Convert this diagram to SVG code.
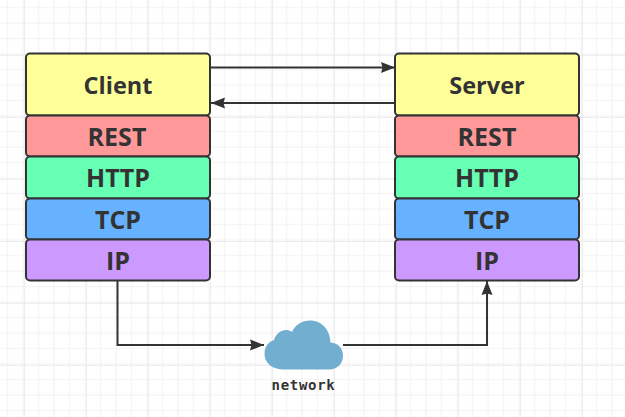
<svg xmlns="http://www.w3.org/2000/svg" width="625" height="417" viewBox="0 0 625 417">
<defs>
<pattern id="gridMinor" width="15.5" height="15.5" patternUnits="userSpaceOnUse" x="-0.5" y="-0.5"><path d="M8 0V15.5M0 8H15.5" fill="none" stroke="#f1f1f1" stroke-width="1"/></pattern>
<pattern id="gridMajor" width="62" height="62" patternUnits="userSpaceOnUse" x="24" y="-7"><path d="M0 0V62M0 0H62" fill="none" stroke="#e8e8e8" stroke-width="1.5"/></pattern>
<marker id="arrow" markerWidth="15" markerHeight="12" refX="14" refY="6" orient="auto" markerUnits="userSpaceOnUse"><path d="M0 0.500L14 6L0 11.500L1.500 6Z" fill="#333"/></marker>
</defs>
<style>
.box{stroke:#333;stroke-width:2}
.t{font-family:"Open Sans","Noto Sans",sans-serif;font-weight:700;font-size:25px;fill:#333;text-anchor:middle}
.h{font-size:23.500px}
.c{fill:none;stroke:#333;stroke-width:2;marker-end:url(#arrow)}
.n{font-family:"DejaVu Sans Mono",monospace;font-weight:700;font-size:14px;letter-spacing:0.700px;fill:#333;text-anchor:middle}
</style>
<rect width="625" height="417" fill="#fff"/>
<rect width="625" height="417" fill="url(#gridMinor)"/>
<rect width="625" height="417" fill="url(#gridMajor)"/>
<g id="connectors">
<path class="c" d="M210 67.500H395"/>
<path class="c" d="M395 103H211"/>
<path class="c" d="M117.500 281V345H264"/>
<path class="c" d="M343 345H487V281"/>
</g>
<g id="client"><rect class="box" x="26" y="53.500" width="184" height="62" rx="4" fill="#ffff99"/><text class="t h" x="118" y="94">Client</text></g>
<g id="client-rest"><rect class="box" x="26" y="115.500" width="184" height="41" rx="4" fill="#ff9999"/><text class="t" x="117" y="145.500">REST</text></g>
<g id="client-http"><rect class="box" x="26" y="156.500" width="184" height="42" rx="4" fill="#66ffb3"/><text class="t" x="118" y="186.500">HTTP</text></g>
<g id="client-tcp"><rect class="box" x="26" y="198.500" width="184" height="41" rx="4" fill="#66b2ff"/><text class="t" x="118" y="228.500">TCP</text></g>
<g id="client-ip"><rect class="box" x="26" y="239.500" width="184" height="41" rx="4" fill="#cc99ff"/><text class="t" x="118" y="269.500">IP</text></g>
<g id="server"><rect class="box" x="395" y="53.500" width="184" height="62" rx="4" fill="#ffff99"/><text class="t h" x="487" y="94">Server</text></g>
<g id="server-rest"><rect class="box" x="395" y="115.500" width="184" height="41" rx="4" fill="#ff9999"/><text class="t" x="487" y="145.500">REST</text></g>
<g id="server-http"><rect class="box" x="395" y="156.500" width="184" height="42" rx="4" fill="#66ffb3"/><text class="t" x="487" y="186.500">HTTP</text></g>
<g id="server-tcp"><rect class="box" x="395" y="198.500" width="184" height="41" rx="4" fill="#66b2ff"/><text class="t" x="487" y="228.500">TCP</text></g>
<g id="server-ip"><rect class="box" x="395" y="239.500" width="184" height="41" rx="4" fill="#cc99ff"/><text class="t" x="487" y="269.500">IP</text></g>
<g id="network">
<path d="M284 369.500C272 369.500 264.500 363 264.500 354C264.500 347 268 342 274 340C276 333 282 329.500 287 330C289 330 291 331 292 332C295 325 302 320.500 310 320.500C322 320.500 330 330 330.500 342.500C338 343 343 348 343 355.500C343 364 337 369.500 329 369.500Z" fill="#71aecf"/>
<text class="n" x="303.500" y="390">network</text>
</g>
</svg>
